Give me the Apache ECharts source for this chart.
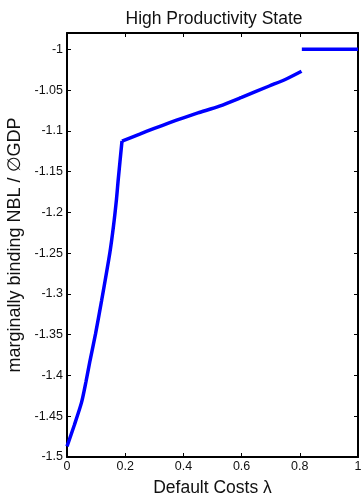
<!DOCTYPE html>
<html>
<head>
<meta charset="utf-8">
<script src="https://cdn.jsdelivr.net/npm/echarts@6/dist/echarts.min.js"></script>
<style>
  html, body { margin: 0; padding: 0; background: #fff; }
  #chart { width: 361px; height: 497px; }
</style>
</head>
<body>
<div id="chart"></div>
<script>
// Default cost parameter (lambda) and the marginally binding NBL relative to mean GDP.
// Steep branch: lambda up to the kink near 0.19
const lambdaSteep = [0.0, 0.025, 0.050, 0.065, 0.079, 0.098, 0.119, 0.147, 0.160, 0.170, 0.176, 0.189];
const nblSteep    = [-1.487, -1.461, -1.433, -1.408, -1.382, -1.349, -1.308, -1.250, -1.216, -1.184, -1.160, -1.1125];
// Flat branch: from the kink up to lambda ~ 0.8
const lambdaShallow = [0.189, 0.25, 0.30, 0.353, 0.40, 0.45, 0.524, 0.60, 0.695, 0.75, 0.806];
const nblShallow    = [-1.1125, -1.104, -1.097, -1.090, -1.084, -1.078, -1.0697, -1.059, -1.045, -1.037, -1.027];
// Region where the limit sits at -1
const lambdaFlat = [0.807, 1.0];
const nblFlat    = [-1.0, -1.0];

const font = 'Liberation Sans, Arial, sans-serif';
const toPairs = (xs, ys) => xs.map((x, i) => [x, ys[i]]);

const chart = echarts.init(document.getElementById('chart'), null, { renderer: 'canvas' });

const axisLine = { show: true, onZero: false, lineStyle: { color: '#000', width: 2 } };
const tickIn = { show: true, inside: true, length: 4, lineStyle: { color: '#000', width: 1 } };
const blueLine = { color: '#0000ff', width: 3.5 };

chart.setOption({
  animation: false,
  backgroundColor: '#fff',
  title: {
    text: 'High Productivity State',
    left: 209, top: 5, textAlign: 'center',
    textStyle: { fontFamily: font, fontSize: 17.5, fontWeight: 'normal', color: '#111' }
  },
  grid: { left: 67, right: 3, top: 33, bottom: 40, outerBoundsMode: 'none', containLabel: false },
  xAxis: [
    {
      type: 'value', min: 0, max: 1, interval: 0.2,
      position: 'bottom',
      name: 'Default Costs λ', nameLocation: 'middle', nameGap: 22,
      nameTextStyle: { fontFamily: font, fontSize: 17.5, color: '#111' },
      axisLine, axisTick: tickIn,
      axisLabel: { fontFamily: font, fontSize: 12.5, color: '#111', margin: 3 },
      splitLine: { show: false }
    },
    {
      type: 'value', min: 0, max: 1, interval: 0.2, position: 'top',
      axisLine, axisTick: tickIn, axisLabel: { show: false }, splitLine: { show: false }
    }
  ],
  yAxis: [
    {
      type: 'value', min: -1.5, max: -0.98, interval: 0.05,
      position: 'left',
      name: 'marginally binding NBL / ∅GDP', nameLocation: 'middle', nameGap: 42,
      nameTextStyle: { fontFamily: font, fontSize: 18, color: '#111' },
      axisLine, axisTick: tickIn,
      axisLabel: { fontFamily: font, fontSize: 12.5, color: '#111', margin: 4, showMaxLabel: false },
      splitLine: { show: false }
    },
    {
      type: 'value', min: -1.5, max: -0.98, interval: 0.05, position: 'right',
      axisLine, axisTick: tickIn, axisLabel: { show: false }, splitLine: { show: false }
    }
  ],
  series: [
    {
      type: 'line', data: toPairs(lambdaSteep, nblSteep), showSymbol: false,
      smooth: 0.25, lineStyle: blueLine
    },
    {
      type: 'line', data: toPairs(lambdaShallow, nblShallow), showSymbol: false,
      smooth: 0.25, lineStyle: blueLine
    },
    {
      type: 'line', data: toPairs(lambdaFlat, nblFlat), showSymbol: false,
      lineStyle: blueLine
    }
  ]
});
</script>
</body>
</html>
